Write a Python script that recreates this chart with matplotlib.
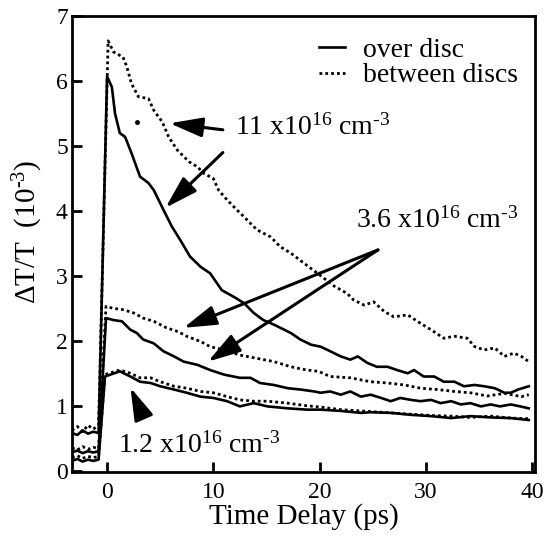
import matplotlib
matplotlib.use("Agg")
import matplotlib.pyplot as plt

plt.rcParams['font.family'] = ['Liberation Serif', 'DejaVu Serif']
plt.rcParams['mathtext.fontset'] = 'custom'
plt.rcParams['mathtext.rm'] = 'Liberation Serif'
plt.rcParams['mathtext.it'] = 'Liberation Serif:italic'
plt.rcParams['mathtext.bf'] = 'Liberation Serif:bold'

# ---- data ----
# 11 x10^16 cm^-3, between discs (dotted)
t_d11 = [-3.3, -2.8, -2.3, -1.8, -1.3, -0.8,
         0.1, 0.6, 1.5, 1.86, 2.3, 2.95, 3.9, 4.4, 5.2, 5.8,
         6.6, 7.7, 8.5, 9.1, 10.0, 10.5, 11.3, 12.2, 13.2, 14.1,
         15.4, 16.3, 17.3, 18.5, 19.8, 21.4, 22.6, 23.2, 24.2, 25.1,
         26.1, 27.0, 28.3, 29.5, 30.5, 31.7, 32.7, 33.9, 34.6, 35.5,
         36.5, 37.4, 38.3, 39.0, 39.7]
y_d11 = [0.62, 0.68, 0.60, 0.70, 0.64, 0.70,
         6.62, 6.45, 6.37, 6.22, 5.96, 5.76, 5.73, 5.55, 5.37, 5.14,
         4.94, 4.76, 4.68, 4.58, 4.50, 4.32, 4.17, 4.02, 3.86, 3.71,
         3.60, 3.45, 3.35, 3.20, 3.04, 2.84, 2.73, 2.63, 2.55, 2.60,
         2.45, 2.37, 2.40, 2.27, 2.17, 2.04, 2.07, 2.04, 1.91, 1.86,
         1.89, 1.76, 1.81, 1.76, 1.68]

# 11 x10^16 cm^-3, over disc (solid)
t_s11 = [-3.3, -2.8, -2.3, -1.8, -1.3, -0.8,
         0.0, 0.45, 0.75, 1.2, 1.7, 2.3, 3.1, 3.9, 4.4, 5.3,
         6.1, 6.9, 7.8, 8.8, 9.7, 10.8, 11.9, 12.9, 13.8, 14.7,
         15.7, 17.3, 18.2, 19.2, 20.1, 21.0, 22.0, 22.9, 23.6, 24.5,
         25.4, 26.4, 27.3, 28.3, 28.9, 29.8, 30.8, 31.7, 32.7, 33.6,
         34.6, 35.5, 36.5, 37.4, 38.0, 38.7, 39.7]
y_s11 = [0.58, 0.55, 0.62, 0.57, 0.60, 0.58,
         6.07, 5.91, 5.50, 5.20, 5.14, 4.89, 4.53, 4.43, 4.32, 4.02,
         3.76, 3.55, 3.30, 3.14, 3.04, 2.78, 2.68, 2.58, 2.43, 2.32,
         2.25, 2.12, 2.02, 1.94, 1.91, 1.84, 1.76, 1.71, 1.76, 1.66,
         1.60, 1.60, 1.55, 1.50, 1.55, 1.45, 1.45, 1.37, 1.37, 1.30,
         1.32, 1.30, 1.27, 1.20, 1.20, 1.25, 1.30]

# 3.6 x10^16 cm^-3, between discs (dotted)
t_d36 = [-3.3, -2.8, -2.3, -1.8, -1.3, -0.8,
         -0.1, 0.6, 1.5, 2.5, 3.4, 4.4, 5.6, 6.7, 7.5, 8.8,
         9.7, 11.0, 12.5, 14.1, 15.7, 17.3, 18.8, 19.9, 21.0, 22.9,
         24.8, 26.4, 28.0, 29.5, 31.1, 32.7, 34.2, 35.8, 37.4, 39.0, 39.7]
y_d36 = [0.35, 0.32, 0.37, 0.33, 0.36, 0.34,
         2.53, 2.50, 2.48, 2.43, 2.35, 2.30, 2.20, 2.14, 2.07, 1.99,
         1.91, 1.86, 1.78, 1.73, 1.68, 1.60, 1.55, 1.53, 1.45, 1.43,
         1.37, 1.35, 1.32, 1.27, 1.25, 1.22, 1.20, 1.15, 1.19, 1.14, 1.17]

# 3.6 x10^16 cm^-3, over disc (solid)
t_s36 = [-3.3, -2.8, -2.3, -1.8, -1.3, -0.8,
         -0.1, 0.6, 1.4, 2.2, 2.8, 3.4, 4.4, 5.3, 6.3, 7.2,
         8.5, 9.7, 11.0, 12.5, 13.5, 14.4, 15.7, 17.0, 18.2, 19.5,
         20.1, 21.0, 22.0, 22.9, 23.9, 24.8, 25.8, 26.7, 27.6, 28.6,
         29.5, 30.5, 31.4, 32.4, 33.3, 34.2, 35.2, 36.1, 37.0, 38.0, 38.9, 39.7]
y_s36 = [0.28, 0.31, 0.27, 0.30, 0.28, 0.30,
         2.35, 2.32, 2.30, 2.17, 2.12, 2.02, 1.96, 1.84, 1.76, 1.68,
         1.63, 1.55, 1.48, 1.43, 1.43, 1.35, 1.32, 1.27, 1.25, 1.22,
         1.20, 1.22, 1.17, 1.22, 1.14, 1.17, 1.12, 1.07, 1.12, 1.09,
         1.07, 1.09, 1.04, 1.07, 1.02, 1.04, 0.99, 1.02, 0.99, 1.02, 0.99, 0.96]

# 1.2 x10^16 cm^-3 (both traces share the time grid)
t_12 = [-3.3, -2.8, -2.3, -1.8, -1.3, -0.8,
        -0.2, 1.2, 2.2, 3.1, 4.1, 5.0, 6.3, 7.5, 8.8, 10.0,
        11.3, 12.5, 13.8, 15.1, 17.0, 18.8, 20.1, 22.0, 23.9, 24.8,
        26.7, 28.6, 30.5, 32.4, 34.2, 36.1, 38.0, 39.7]
y_s12 = [0.15, 0.18, 0.14, 0.17, 0.15, 0.17,
         1.45, 1.53, 1.45, 1.37, 1.35, 1.30, 1.25, 1.20, 1.14, 1.12,
         1.07, 0.99, 1.04, 0.99, 0.96, 0.94, 0.94, 0.92, 0.89, 0.90,
         0.89, 0.86, 0.84, 0.81, 0.84, 0.82, 0.81, 0.78]
y_d12 = [0.20, 0.23, 0.19, 0.22, 0.20, 0.22,
         1.48, 1.55, 1.50, 1.43, 1.43, 1.37, 1.30, 1.27, 1.22, 1.20,
         1.14, 1.09, 1.07, 1.07, 1.04, 1.00, 0.98, 0.94, 0.92, 0.91,
         0.89, 0.87, 0.85, 0.84, 0.82, 0.84, 0.81, 0.80]

stray_t = [2.8]
stray_y = [5.37]

x_ticks = [0, 10, 20, 30, 40]
y_ticks = [0, 1, 2, 3, 4, 5, 6, 7]

# ---- figure ----
fig = plt.figure(figsize=(5.54, 5.40), dpi=100)
ax = fig.add_axes([0.130, 0.126, 0.836, 0.844])

solid_kw = dict(color='black', lw=1.9, ls='-')
dot_kw = dict(color='black', lw=2.0, ls=(0, (1, 1.1)))

ax.plot(t_s11, y_s11, label='over disc', **solid_kw)
ax.plot(t_d11, y_d11, label='between discs', **dot_kw)
ax.plot(t_s36, y_s36, **solid_kw)
ax.plot(t_d36, y_d36, **dot_kw)
ax.plot(t_12, y_s12, **solid_kw)
ax.plot(t_12, y_d12, **dot_kw)
ax.plot(stray_t, stray_y, 'o', color='black', ms=2.5)

ax.set_xlim(-3.3, 40.3)
ax.set_ylim(-0.02, 7.0)
ax.set_xticks(x_ticks)
ax.set_yticks(y_ticks)
ax.tick_params(direction='in', length=7, width=2, labelsize=17, top=False, right=False)
ax.tick_params(axis='x', pad=7)
ax.tick_params(axis='y', pad=3)
for s in ax.spines.values():
    s.set_linewidth(2)

ax.set_xlabel('Time Delay (ps)', fontsize=21, labelpad=0)
ax.set_ylabel('ΔT/T  (10$^{‐3}$)', fontsize=21)
ax.yaxis.set_label_coords(-0.058, 0.526)

leg = ax.legend(loc='upper right', bbox_to_anchor=(1.0, 0.99), frameon=False, fontsize=20,
                handlelength=0.95, handletextpad=0.65, labelspacing=0.0, borderaxespad=0.2)

arrow = dict(arrowstyle='-|>,head_length=1.0,head_width=0.3', lw=2.2, color='black',
             mutation_scale=20, shrinkA=0, shrinkB=0)

ax.text(12.0, 5.17, '11 x10$^{16}$ cm$^{‐3}$', fontsize=20, va='baseline', ha='left')
ax.annotate('', xy=(5.9, 5.35), xytext=(10.9, 5.25), arrowprops=arrow)
ax.annotate('', xy=(5.5, 4.05), xytext=(10.9, 4.9), arrowprops=arrow)

ax.text(23.4, 3.75, '3.6 x10$^{16}$ cm$^{‐3}$', fontsize=20, va='baseline', ha='left')
ax.annotate('', xy=(7.2, 2.2), xytext=(25.5, 3.4), arrowprops=arrow)
ax.annotate('', xy=(9.5, 1.68), xytext=(25.5, 3.4), arrowprops=arrow)

ax.text(1.04, 0.28, '1.2 x10$^{16}$ cm$^{‐3}$', fontsize=20, va='baseline', ha='left')
ax.annotate('', xy=(2.2, 1.28), xytext=(3.4, 0.83), arrowprops=arrow)

fig.savefig('out.png', dpi=100)
